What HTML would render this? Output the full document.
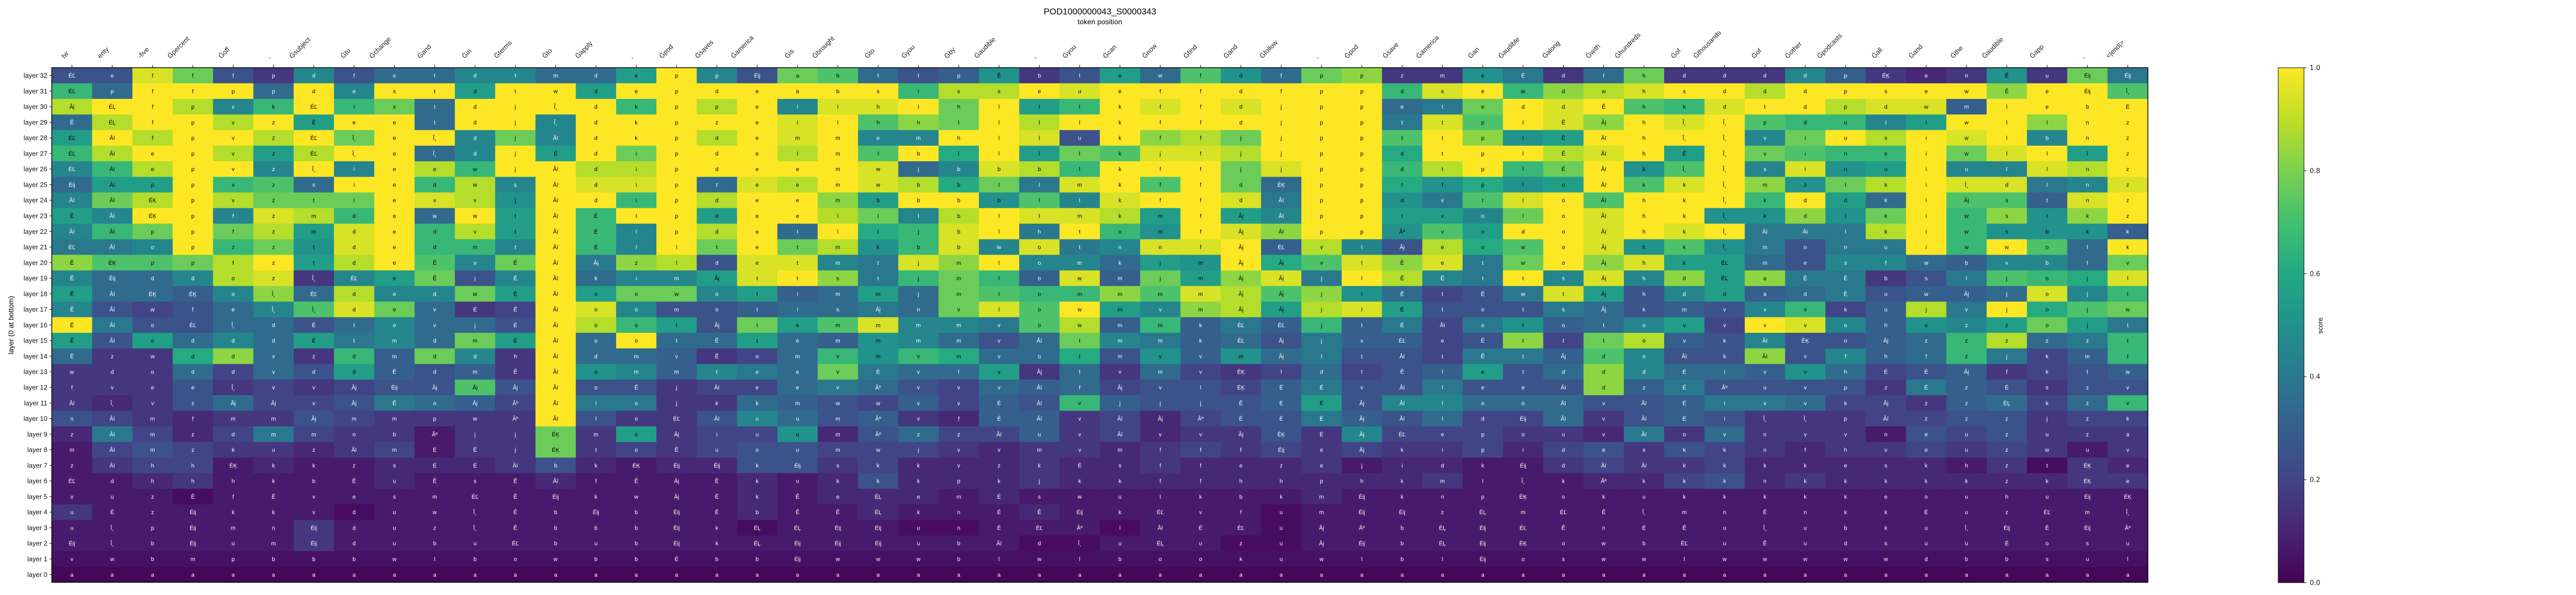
<!DOCTYPE html>
<html><head><meta charset="utf-8"><style>
html,body{margin:0;padding:0;background:#fff;}
svg{display:block;font-family:"Liberation Sans","DejaVu Sans",sans-serif;}
</style></head><body>
<svg id="chart" width="5200" height="1155" viewBox="0 0 5200 1155" xmlns="http://www.w3.org/2000/svg">
<defs>
<linearGradient id="vir" x1="0" y1="1" x2="0" y2="0">
<stop offset="0" stop-color="#440154"/><stop offset="0.1" stop-color="#482475"/><stop offset="0.2" stop-color="#414487"/><stop offset="0.3" stop-color="#355f8d"/><stop offset="0.4" stop-color="#2a788e"/><stop offset="0.5" stop-color="#21918c"/><stop offset="0.6" stop-color="#22a884"/><stop offset="0.7" stop-color="#44bf70"/><stop offset="0.8" stop-color="#7ad151"/><stop offset="0.9" stop-color="#bddf26"/><stop offset="1" stop-color="#fde725"/>
</linearGradient>
</defs>
<text x="2135" y="28" text-anchor="middle" font-size="17">POD1000000043_S0000343</text>
<text x="2135" y="47" text-anchor="middle" font-size="14">token position</text>
<text transform="translate(26,631) rotate(-90)" text-anchor="middle" font-size="14">layer (0 at bottom)</text>
<g id="cells"></g>
<g id="xlabels"></g>
<g id="ylabels"></g>
<rect x="100.5" y="131.4" width="4068.5" height="999" fill="none" stroke="#000" stroke-width="1.5"/>
<rect x="4422" y="131.6" width="50" height="999.4" fill="url(#vir)" stroke="#000" stroke-width="1"/>
<g id="cbticks"></g>
<text transform="translate(4508,632) rotate(-90)" text-anchor="middle" font-size="13">score</text>
</svg>
<script>
const tokens = ["tw","enty","-five","Ġpercent","Ġoff",",","Ġsubject","Ġto","Ġchange","Ġand","Ġin","Ġterms","Ġto","Ġapply",",","Ġpod","Ġsaves","Ġamerica","Ġis","Ġbrought","Ġto","Ġyou","Ġby","Ġaudible",",","Ġyou","Ġcan","Ġnow","Ġfind","Ġand","Ġfollow",",","Ġpod","Ġsave","Ġamerica","Ġan","Ġaudible","Ġalong","Ġwith","Ġhundreds","Ġof","Ġthousands","Ġof","Ġother","Ġpodcasts","Ġall","Ġand","Ġthe","Ġaudible","Ġapp",",","<|end|>"];
const layerLabels = [];
for (let i = 32; i >= 0; i--) layerLabels.push("layer " + i);
const cbTickLabels = ["0.0","0.2","0.4","0.6","0.8","1.0"];
const cbTickValues = [0,0.2,0.4,0.6,0.8,1.0];
const cellText = [
"ÉĽ e f f f p d f s t d t m d e p p Éij a b t t p Ê b l e w f d f p p z m e É d l h d d d d p ÉĶ e n Ê u Éij Éij",
"ÉĽ p f f p p d e s t d t w d e p d e a b s i s s e u e f f d f p p d s e w d w h s d d d p s e w Ê e Éij Î¸",
"Âį ÉĻ f p v k ÉĽ l s t d j Î¸ d k p p e l l h l h l l l k f f d j p p e t e d d Ê h k d t d p d w m l e b É",
"Ê ÉĻ f p v z Ê e e t d j Î¸ d k p z e l l h h l l l l k f f d j p p t t p l Ê Âį h Î¸ Î¸ p d u l l w l l n z",
"ÉĽ Âï f p v z ÉĽ Î¸ e Î¸ d j Âï d k p d e m m e m h l l u k f f j j p p t t p l Ê Âï h Î¸ Î¸ v i u s i w l b n z",
"ÉĽ Âï e p v z ÉĽ Î¸ e Î¸ d j É d i p d e l m l b l l l l k j f j j p p d t p l Ê Âï h Ê Î¸ v i n s i w l l l z",
"ÉĽ Âï e p v z Î¸ i e e w j Âï d i p d e e m w j b b b l k f f j j p p d t p l Ê Âï k Î¸ Î¸ s i n u i u l l n z",
"Éij Âï p p v z s i e d w s Âï d i p t e e m w b b l l m k f f d ÉĶ p p t t p l o Âï k k Î¸ m z l k i Î¸ d l n z",
"Âï Âï ÉĶ p v z t i e v v j Âï d i p d e e m b b b b l l k f f d Âï p p d v t l o Âï h k Î¸ k d d k i Âį s t n z",
"Ê Âï ÉĶ p f z m d e w w t Âï É l p d e e l l l b l l m k m f Âį Âï p p t v o l o Âï h k Î¸ k d l k i w s t k z",
"Âï Âï p p f z m d e d v t Âï É l p d e t l t j b l h t o m f Âį Âï p p Âº v o d o Âï h k Î¸ Âï Âï l k i w s b k k",
"ÉĽ Âï o p z z t d e d m t Âï É l l t e t m k b b w o t n n f Âį ÉĽ v l Âį e o w o Âį h k Î¸ m o n u i w w o l k",
"Ê ÉĶ p p f z t d e Ê v Ê Âï Âį z l d e t m t j m l o m k j m Âį Âį v l Ê e t w o Âį h k ÉĽ m e s f w b v b l v",
"Ê Éij d d o z Î¸ ÉĽ e Ê j Ê Âï k i m Âį t t s t j m l o w m j m Âį Âį j l Ê Ê t t s Âį h d ÉĽ a Ê Ê b s l j o j l",
"Ê Âï ÉĶ ÉĶ o Î¸ ÉĽ d e d w Ê Âï o o w o t i m m j m l o m m m m Âį Âį j l Ê t Ê w t Âį h d d a d Ê u w Âį j o j l",
"Ê Âï w f e Î¸ Î¸ d e v É Ê Âï o o m o t i s Âį n v l o w m v m Âį Âį j l É t o t s Âį k m v v v k u j v j o j w",
"Ê Âï o ÉĽ Î¸ d É t e v j É Âï o o t Âį t e m m m m v o w m m k ÉĽ ÉĽ j t É Âï o t o t o v v v v o h v z z o j t",
"Ê Âï o d d d É t m d m É Âï o o t Ê t e m m m m v Âï t m m k ÉĽ Âį j v ÉĽ e Ê t t t o v k Âï ÉĶ o Âį z z z z z t",
"Ê z w d d v z d m d d h Âï d m v Ê o m v m v m v o t m v v m Âį l t Âï t Ê t Âį d o Âï k Âï v f h f z j k m t",
"w d o d d v d d Ê d m Ê Âï o m m t e e v É v l v Âį t v m v ÉĶ l d t Ê l e t d d d É i v v h É É Âį f k t w",
"f v e e Î¸ v v Âį Éij Âį Âį Âį Âï o Ê j Âï e e v Âº v v v Âï f Âį v l ÉĶ É É v Âï l e e Âï d z É Âº u v p z É z É s z v",
"Âï Î¸ v z Âį Âį v Âį Ê o Âį Âº Âï l o j k k m w w v v É Âï v j j j Ê É É Âį Âï l o o Âï v Âï É i v v k Âį z z ÉĻ k z v",
"n Âï m f m m Âį m m p w Âº Âï l o ÉĽ Âï u u m Âº v f É Âï v Âï Âį Âº É É É Âį Âï l d Éij Âï v Âï É i Î¸ Î¸ p Âï z z z j z k",
"z Âï m z d m m o b Âº j j ÉĶ m o Âį i u u m Âº z z Âï u v Âï v v Âį ÉĶ É Âį ÉĽ e p o u v Âï o v n v v n e u z u z a",
"m Âï m z k u z Âï m É Ê j ÉĶ t o Ê u o u m w j v v m v m f f f Éij e Âį k i p i d e s k k n f h v e u z w u v",
"z Âï h h ÉĶ k k z s É É Âï b k ÉĶ Éij Éij k Éij s k k v z k É s f f e z e j i d k Éij d Âï Âï k k k k e s k h z t ÉĶ e",
"ÉĽ d h h h k b Ê u Ê s Ê Âï f Ê Âį Ê k u k k k p k j k k f f h h p h k m l Î¸ k Âº k k k n k k k k k z k ÉĶ e",
"v u z Ê f Ê v e s m ÉĽ Ê Éij k w Âį Ê k Ê e ÉĻ e m É s w u l k b k m Éij k n p ÉĶ o k u k k k k k e o u h u Éij ÉĶ",
"u É z Éij k k v d u w Î¸ Ê b Éij b Éij Ê b Ê Ê ÉĻ k n É Ê Éij k ÉĽ v f u m Éij Éij z ÉĻ m ÉĽ Ê Î¸ m n Ê n k k É u z ÉĽ m Î¸",
"u Î¸ p Éij m n Éij d u z Î¸ Ê b b b Éij k ÉĻ ÉĻ Éij Éij u n É ÉĽ Âº l Âï É ÉĽ u Âį Âº b ÉĻ Éij ÉĽ Ê n É Ê u Î¸ u b k u Î¸ Éij Ê Éij Âº",
"Éij Î¸ b Éij u m Éij d u b u ÉĽ b u b Éij k ÉĻ Éij Éij Éij u b Âï d Î¸ u ÉĻ u z u Âį Éij b ÉĻ Éij ÉĶ o w b ÉĽ u Ê u d s u u É o s u",
"v w b m p b b b w l b o w b b É b b Éij w w w b l w l b o o k u w l b l Éij o s w w l w w w w w d b b s u l",
"a a a a a a a a a a a a a a a a a a a a a a a a a a a a a a a a a a a a a a a a a a a a a a a a a a a a"
];
const scores = [
[3,3,9.5,8,3,2,5,3,4,4,5,5,4,4,6,10,5, 3,8,7.5,4,3,3.5,5.5,2,3,6,4,7.5,5.5,4,8,8.5,2, 2,5.5,4.5,2,4,8,2,2,2,5,3.5,2,1.5,2,5.5,2,8,4.5],
[7,4,10,10,10,4,10,5,10,10,6,10,10,6,10,10,10, 10,10,10,10,7,9,9,10,9.5,10,10,10,10,10,10,10,7, 9.5,10,7,8.5,9,9.5,10,10,9,10,10,10,10,10,8.5,10,10,7.5],
[9,10,10,9,5,7,10,7,8,4,10,10,10,10,7,10,9, 10,5,9.5,9.5,10,8,10,6,7,10,9.5,10,9.5,10,10,10,4, 4.5,8,10,9.5,10,7.5,7,9.5,10,10,9,9.5,9.5,3.5,10,10,10,10],
[4,9,10,10,9,10,6,10,10,4,10,10,5,10,10,10,10, 10,9.5,10,7.5,8.5,8,10,9,10,10,10,10,10,10,10,10,4.5, 9.5,7.5,10,9.5,8.5,10,9.5,10,7.5,7,7,5,6,10,10,8.5,10,10],
[6,10,9,10,10,9,10,8,10,10,5,8,5,10,10,10,9, 10,9.5,10,5,5,10,10,9.5,3,10,8.5,9,8,10,10,10,7.5, 10,8.5,5.5,6,10,10,10,10,5,8,10,9,10,9.5,10,5,10,10],
[7,9,10,10,9,6,9,10,10,4,5,10,6,10,8,10,10, 10,9,10,7.5,10,6.5,10,6,8,7.5,9.5,9.5,9,10,10,10,6.5, 10,10,10,9,9.5,10,6,10,8,7.5,7,7,10,8,9.5,10,6,10],
[5,7,9,10,10,5,10,5,10,9,7,10,10,9,9,10,10, 10,10,10,9.5,4,5,9.5,9,7,10,10,10,8,9.5,10,10,7, 9,10,7,8,10,5.5,7.5,10,5,9.5,5.5,6,10,5,5,9.5,9,10],
[4,6,6,10,7,7.5,4,10,10,7,9,5,10,9.5,9.5,10,4, 9.5,9,10,9.5,9,6.5,8,4.5,9.5,10,7.5,10,8,4,10,10,6.5, 5.5,6.5,5.5,6,10,7.5,9.5,10,8.5,5.5,8,9,10,9.5,9.5,4.5,5,9.5],
[5,8,9,10,9,8,8,8,10,9.5,9,5.5,10,10,7,10,9, 10,10,8.5,6,10,10,5.5,7.5,5,9.5,10,10,9.5,4.5,10,10,5.5, 4.5,7.5,9.5,10,7.5,10,10,10,7,10,6,4,10,7.5,7.5,3.5,9.5,10],
[6,5,10,10,5,9.5,9,7,10,4,10,6,10,7,10,10,6, 10,10,9,8,5,9,10,9.5,9.5,9,6,10,6,5,10,10,6, 6,5,8,10,9.5,10,10,5.5,5.5,8.5,5.5,8,10,7,8.5,5.5,8.5,10],
[5,7,8,10,8,9,6,9.5,10,7,9,6,10,7,5,10,9, 10,4,10,6.5,7,9.5,10,4.5,10,7,5.5,10,9.5,8.5,10,10,5.5, 7.5,6,10,10,9.5,10,9.5,10,4.5,4.5,4.5,9,10,7,5.5,5.5,5.5,3.5],
[4.5,4.5,5,10,7,8,5.5,9.5,10,7,7,5,10,7,5,10,8, 10,8,9,5.5,7,9.5,5,9.5,4.5,5,9.5,9.5,10,3.5,9,5,3, 9,6.5,7.5,10,9.5,5.5,7.5,5.5,4.5,3,4.5,4.5,10,7,10,7.5,4,10],
[8.5,7.5,7.5,8,9,10,6,9,10,7.5,5,8,10,4.5,8.5,9,3, 9.5,9.5,5,4.5,9.5,8.5,10,5,5,4,6,5.5,10,6.5,7.5,9.5,8.5, 9.5,4.5,8,10,8.5,9.5,6,6,4,3,5,5,4,3.5,5,5,4,8],
[5,4,4,5,9,9.5,2,5,6,8,3,5,10,4,5,5,6, 9.5,10,8.5,4.5,7,8,7,3.5,9.5,3.5,8,6,8.5,9.5,4.5,10,9, 5,4.5,10,5,9.5,5,8.5,6,8.5,4.5,4.5,2,3,4.5,7.5,7,6.5,9.5],
[6,4,4,3.5,5,8.5,4,9,5,5,8,6,10,6,8,8,5, 6,3.5,4,6,4,8,7.5,7,7,8.5,7.5,9.5,9,7.5,8.5,5.5,4, 2.5,3,4.5,9.5,6,3,5,6,3.5,4,4.5,3,3.5,3.5,4,9.5,5,7],
[5,3,2.5,3,4,5,7.5,9.5,8,4,2,2.5,10,9.5,5,3,3, 3.5,4,4,4.5,4,8,9.5,7.5,10,6,5,8.5,9,6,9,9.5,6, 3,3,3,4.5,4,3,3.5,3,5,7,2.5,3.5,9,4.5,10,6.5,7.5,8],
[10,4.5,3,3,4,4,3,4,5,4,4,3,10,9,7,6,3, 8,6,7.5,9.5,5,5,4.5,7.5,9,3.5,7,3.5,4.5,3.5,7,3.5,4.5, 2.5,4.5,5.5,3.5,4,5,6,2.5,10,9.5,5,3.5,5.5,5,6,8,6,4.5],
[6,3,6,4,5,4,6,4.5,5,4,8,6,10,4,10,4,4, 6,4,3.5,5.5,5,4,3,4,8,5,4.5,3.5,4,3,4.5,3.5,3.5, 2.5,3,8.5,2.5,8,9,3.5,3,5,3,3,3.5,4,7,9,4,4.5,7],
[4,2,2,6.5,8.5,4,2,7,3.5,8,5,2,10,4,4,3.5,2, 2.5,4,7,5.5,7,6.5,4,4,6.5,3,5.5,3.5,5.5,4,4.5,3,3, 2.5,4.5,4.5,3.5,7.5,5,3,3,8.5,3,5,3.5,4,7,4.5,2.5,3.5,7],
[2,2,2,4,2.5,4,3,6,3.5,3,3.5,2,10,5.5,5,3.5,5, 4.5,4,8,4.5,4,4,6,2,4,2,4,2.5,2,2.5,4,2.5,3, 3.5,6,3,4,8.5,5,4,4,3.5,5.5,4,2.5,3,3.5,2,2.5,3,3.5],
[2,2,2,3,2,2.5,2,2.5,3,3,7.5,3,10,3,3,2,2.5, 2.5,4,4.5,4,3,2.5,4,3.5,4,2.5,3,3,2.5,3.5,4.5,3,3, 4.5,3,3,3,8.5,3.5,4.5,3,3,3,3,2,4.5,3.5,3,2,3,3],
[2,1.5,2,3,4,2.5,2.5,3,4.5,4,3.5,2.5,10,4.5,4.5,2,2, 4,3.5,3,2.5,3.5,2.5,3.5,3,7,3.5,3,3,3,3.5,6,3,5, 5,4,4,4,3,3,3.5,4.5,4.5,4,2.5,2.5,2,3.5,4,2.5,4,7],
[3,2.5,2,1.5,2,2,3,2.5,2,2,2,2,10,3,2,2,3, 5,4,3,3.5,2,1.5,3.5,3.5,2,2.5,1.5,2.5,3,3,4.5,3.5,3, 4,2.5,2.5,4,2,3,3.5,3,2,2,2,2.5,2.5,3,3,2,2.5,2.5],
[1.5,4.5,2.5,1.5,2.5,4.5,2.5,2,2,1,2,2,8,2,6,2,2.5, 2.5,5.5,1.5,3,4,2.5,2.5,3.5,2,2.5,1.5,2,2,3,2,5,2.5, 2.5,2.5,2,2,1.5,4.5,2,4,2,2,2,1,3,2.5,3,2,2,2],
[1,2.5,3,2.5,2,2,1.5,2,2.5,1,2,2,8,2,2.5,2,2.5, 3,3,2.5,2.5,2.5,2,1.5,2,2,1.5,2,2.5,2,2.5,2,2.5,2, 2,2.5,1.5,2.5,3,2,3,2.5,2,1.5,2,2,2.5,2,2.5,2,1,2],
[1,2,2.5,2.5,1,1.5,1,1,1.5,1.5,1.5,2,3,1.5,1,1.5,1.5, 3,3,2,2.5,1.5,1.5,1.5,2,1.5,1.5,2,1.5,1.5,1.5,2,1,1.5, 1.5,1,1,2,2.5,2,2,2.5,1.5,1.5,1.5,1.5,1.5,1,2,0.5,2,1.5],
[1,1,1.5,2,1,1,1,1,1.5,1,1,1,1.5,1,1,1,1, 1.5,1,1.5,3,1.5,1.5,1.5,2,1.5,1.5,1.5,1.5,1.5,1.5,1.5,1.5,1.5, 2,1,1,1,1.5,1.5,2.5,3,1.5,2,1.5,1.5,1.5,1.5,1.5,1.5,2,2],
[1,1,1,0.5,1,1,1,1,1,1,1,1,1,1,1,1,1, 1.5,1,1.5,1.5,1.5,1,1.5,1,1,1,1,1,1,1,1.5,1,1, 1,1,1,1,1,1,1,1,1,1,1,1,1,1,1,1,1,1],
[2,1,1,1,1,1,1,0.5,1,1,1,1,1,1,1,1,1, 1.5,1,1,1.5,1,1,1,1.5,1,1,1,1,1,0.5,1,1,1, 1,1,1,1,1,1,1,1,1,1,1,1,1,1,1,1,1,1],
[1,1,1,1,1,1,2,1,1,1,1,1,1,1,1,1,1, 0.5,1,1,1,0.5,0.5,1,1,1,0.5,1,1,1,0.5,1,1,1, 1,1,1,1,1,1,1,1,1,1,1,1,1,1,1,1,1,1],
[1,1,1,1,1,1,2,1,1,1,1,1,1,1,1,1,1, 1,1,1,1,1,1,1,0.5,0.5,1,1,1,0.5,0.5,1,1,1, 1,1,1,1,1,1,1,1,1,1,1,1,1,1,1,1,1,1],
[0.7,0.7,0.7,0.7,0.7,0.7,0.7,0.7,0.7,0.7,0.7,0.7,0.7,0.7,0.7,0.7,0.7, 0.7,0.7,0.7,0.7,0.7,0.7,0.7,0.7,0.7,0.7,0.7,0.7,0.7,0.7,0.7,0.7,0.7, 0.7,0.7,0.7,0.7,0.7,0.7,0.7,0.7,0.7,0.7,0.7,0.7,0.7,0.7,0.7,0.7,0.7,0.7],
[0.3,0.3,0.3,0.3,0.3,0.3,0.3,0.3,0.3,0.3,0.3,0.3,0.3,0.3,0.3,0.3,0.3, 0.3,0.3,0.3,0.3,0.3,0.3,0.3,0.3,0.3,0.3,0.3,0.3,0.3,0.3,0.3,0.3,0.3, 0.3,0.3,0.3,0.3,0.3,0.3,0.3,0.3,0.3,0.3,0.3,0.3,0.3,0.3,0.3,0.3,0.3,0.3]
];

const NS = "http://www.w3.org/2000/svg";
const X0 = 100.5, X1 = 4169, Y0 = 131.4, Y1 = 1130.4;
const nCols = tokens.length, nRows = layerLabels.length;
const cw = (X1 - X0) / nCols, ch = (Y1 - Y0) / nRows;
function xPos(i){ return X0 + i * cw; }
function yPos(r){ return Y0 + r * ch; }
const VIR = ["#440154","#482475","#414487","#355f8d","#2a788e","#21918c","#22a884","#44bf70","#7ad151","#bddf26","#fde725"];
function hex(c){ return [parseInt(c.substr(1,2),16),parseInt(c.substr(3,2),16),parseInt(c.substr(5,2),16)]; }
function viridis(t){
  t = Math.max(0, Math.min(1, t));
  const p = t * 10, i = Math.min(9, Math.floor(p)), f = p - i;
  const a = hex(VIR[i]), b = hex(VIR[i+1]);
  return "rgb(" + a.map((v,k)=>Math.round(v + (b[k]-v)*f)).join(",") + ")";
}
function mk(tag, attrs){ const e = document.createElementNS(NS, tag); for (const k in attrs) e.setAttribute(k, attrs[k]); return e; }

const cells = document.getElementById("cells");
for (let r = 0; r < nRows; r++) {
  const txt = cellText[r].split(" ");
  for (let c = 0; c < nCols; c++) {
    const v = scores[r][c] / 10;
    const rect = mk("rect", {x: xPos(c), y: yPos(r), width: cw + 0.6, height: ch + 0.6, fill: viridis(Math.pow(v, 1.15))});
    
    
    cells.appendChild(rect);
    const t = mk("text", {x: xPos(c) + cw/2, y: yPos(r) + ch/2 + 4, "text-anchor": "middle", "font-size": 11, fill: v <= 0.5 ? "#fff" : "#000"});
    
    
    t.textContent = txt[c] || "";
    cells.appendChild(t);
  }
}

const xl = document.getElementById("xlabels");
for (let c = 0; c < nCols; c++) {
  const cx = xPos(c) + cw/2;
  const tick = mk("line", {x1: cx, x2: cx, y1: 126, y2: 131.4, stroke: "#000", "stroke-width": 1});
  
  
  xl.appendChild(tick);
  const t = mk("text", {"font-size": 13, fill: "#222"});
  
  
  t.textContent = tokens[c];
  xl.appendChild(t);
  const L = t.getComputedTextLength();
  const sx = cx - L * 0.7071 - 6, sy = 114;
  t.setAttribute("transform", "translate(" + sx + "," + sy + ") rotate(-45)");
}

const yl = document.getElementById("ylabels");
for (let r = 0; r < nRows; r++) {
  const cy = yPos(r) + ch/2;
  const tick = mk("line", {x1: 96, x2: 100.5, y1: cy, y2: cy, stroke: "#000", "stroke-width": 1});
  
  
  yl.appendChild(tick);
  const t = mk("text", {x: 92, y: cy + 4.5, "text-anchor": "end", "font-size": 13, fill: "#111"});
  
  
  t.textContent = layerLabels[r];
  yl.appendChild(t);
}

const cb = document.getElementById("cbticks");
const CB0 = 1131, CB1 = 131.6;
function cbY(v){ return CB0 + (CB1 - CB0) * v; }
for (let i = 0; i < cbTickValues.length; i++) {
  const y = cbY(cbTickValues[i]);
  const tick = mk("line", {x1: 4472, x2: 4477, y1: y, y2: y, stroke: "#000", "stroke-width": 1});
  
  
  cb.appendChild(tick);
  const t = mk("text", {x: 4483, y: y + 4.5, "font-size": 13, fill: "#222", "font-family": "DejaVu Sans, sans-serif"});
  
  
  t.textContent = cbTickLabels[i];
  cb.appendChild(t);
}
</script>
</body></html>
